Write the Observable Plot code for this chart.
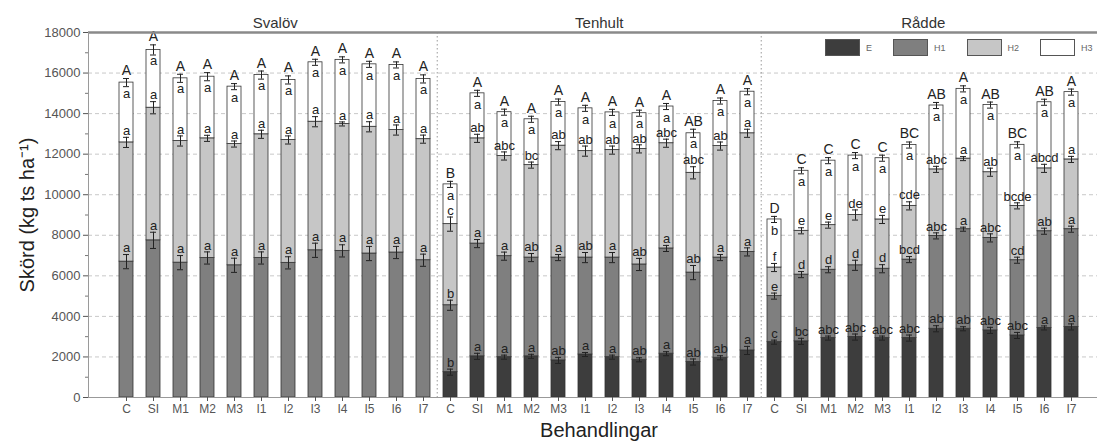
<!DOCTYPE html>
<html>
<head>
<meta charset="utf-8">
<script src="https://cdn.jsdelivr.net/npm/d3@7"></script>
<script src="https://cdn.jsdelivr.net/npm/@observablehq/plot@0.6"></script>
<style>
  body { margin: 0; background: #fff; }
  #wrap { position: relative; width: 1097px; height: 441px; overflow: hidden; font-family: Arial, "Liberation Sans", sans-serif; }
  #legend { position: absolute; left: 825px; top: 39px; display: flex; align-items: center; gap: 21px; white-space: nowrap; }
  #legend .item { display: flex; align-items: center; }
  #legend .sw { width: 35px; height: 17px; box-sizing: border-box; border: 1px solid #555; margin-right: 6px; }
  #legend .lb { font-size: 9px; color: #666; }
</style>
</head>
<body>
<div id="wrap"><div id="chart"></div><div id="legend"></div></div>
<script>
// ---------- categories ----------
const sites = ["Svalöv", "Tenhult", "Rådde"];
const treatments = ["C", "SI", "M1", "M2", "M3", "I1", "I2", "I3", "I4", "I5", "I6", "I7"];
const harvests = ["E", "H1", "H2", "H3"];
const harvestColors = ["#3d3d3d", "#7f7f7f", "#c6c6c6", "#ffffff"];
const yTicks = [0, 2000, 4000, 6000, 8000, 10000, 12000, 14000, 16000, 18000];
const yMinorTicks = [1000, 3000, 5000, 7000, 9000, 11000, 13000, 15000, 17000];

// ---------- yields per harvest (kg ts/ha) ----------
const svalovE  = [0, 0, 0, 0, 0, 0, 0, 0, 0, 0, 0, 0];
const svalovH1 = [6700, 7750, 6650, 6880, 6520, 6880, 6640, 7260, 7230, 7100, 7150, 6770];
const svalovH2 = [5880, 6540, 6000, 5900, 5980, 6100, 6060, 6340, 6260, 6250, 6040, 5970];
const svalovH3 = [2950, 2850, 3090, 3040, 2830, 2920, 2960, 2930, 3160, 3080, 3210, 2970];

const tenhultE  = [1250, 2030, 1990, 2030, 1830, 2120, 1990, 1860, 2160, 1750, 1960, 2320];
const tenhultH1 = [3300, 5560, 4980, 4870, 5070, 4780, 4910, 4700, 5190, 4410, 4940, 4860];
const tenhultH2 = [4000, 5190, 4940, 4560, 5520, 5250, 5300, 5700, 5190, 4920, 5500, 5850];
const tenhultH3 = [1960, 2220, 2160, 2260, 2150, 2110, 1860, 1760, 1810, 1950, 2220, 2050];

const raddeE  = [2730, 2770, 2930, 2980, 2930, 2930, 3390, 3390, 3310, 3060, 3430, 3480];
const raddeH1 = [2270, 3290, 3370, 3540, 3420, 3870, 4580, 4910, 4560, 3710, 4770, 4820];
const raddeH2 = [1410, 2160, 2200, 2480, 2430, 2650, 3280, 3480, 3240, 2680, 3100, 3440];
const raddeH3 = [2370, 2960, 3180, 2930, 3020, 3000, 3150, 3440, 3310, 3010, 3260, 3320];

// ---------- error (± kg, at the top of each cumulative segment) ----------
const svalovErrE  = [0, 0, 0, 0, 0, 0, 0, 0, 0, 0, 0, 0];
const svalovErrH1 = [350, 400, 350, 300, 350, 300, 300, 350, 300, 350, 300, 300];
const svalovErrH2 = [250, 300, 250, 150, 150, 200, 200, 250, 100, 250, 250, 200];
const svalovErrH3 = [200, 250, 200, 200, 150, 200, 200, 150, 150, 150, 150, 200];

const tenhultErrE  = [150, 150, 100, 100, 150, 100, 100, 100, 100, 150, 100, 200];
const tenhultErrH1 = [250, 200, 200, 200, 150, 250, 250, 300, 150, 350, 150, 200];
const tenhultErrH2 = [350, 200, 200, 150, 200, 250, 200, 200, 200, 300, 200, 200];
const tenhultErrH3 = [150, 150, 150, 150, 150, 150, 150, 150, 150, 200, 150, 150];

const raddeErrE  = [100, 150, 100, 150, 100, 150, 150, 100, 150, 150, 100, 150];
const raddeErrH1 = [150, 150, 150, 250, 200, 150, 150, 100, 200, 150, 150, 150];
const raddeErrH2 = [200, 150, 150, 250, 200, 200, 150, 100, 200, 150, 200, 150];
const raddeErrH3 = [150, 150, 150, 150, 150, 150, 150, 150, 150, 150, 150, 150];

// ---------- significance letters ----------
const svalovLetE  = ["", "", "", "", "", "", "", "", "", "", "", ""];
const svalovLetH1 = ["a", "a", "a", "a", "a", "a", "a", "a", "a", "a", "a", "a"];
const svalovLetH2 = ["a", "a", "a", "a", "a", "a", "a", "a", "a", "a", "a", "a"];
const svalovLetH3 = ["a", "a", "a", "a", "a", "a", "a", "a", "a", "a", "a", "a"];
const svalovLetTot = ["A", "A", "A", "A", "A", "A", "A", "A", "A", "A", "A", "A"];

const tenhultLetE  = ["b", "a", "a", "a", "ab", "a", "a", "ab", "a", "ab", "ab", "a"];
const tenhultLetH1 = ["b", "a", "a", "ab", "a", "ab", "a", "ab", "a", "ab", "a", "a"];
const tenhultLetH2 = ["c", "ab", "abc", "bc", "ab", "ab", "ab", "ab", "abc", "abc", "ab", "a"];
const tenhultLetH3 = ["a", "a", "a", "a", "a", "a", "a", "a", "a", "a", "a", "a"];
const tenhultLetTot = ["B", "A", "A", "A", "A", "A", "A", "A", "A", "AB", "A", "A"];

const raddeLetE  = ["c", "bc", "abc", "abc", "abc", "abc", "ab", "ab", "abc", "abc", "a", "a"];
const raddeLetH1 = ["e", "d", "d", "d", "d", "bcd", "abc", "a", "abc", "cd", "ab", "a"];
const raddeLetH2 = ["f", "e", "e", "de", "e", "cde", "abc", "a", "ab", "bcde", "abcd", "a"];
const raddeLetH3 = ["b", "a", "a", "a", "a", "a", "a", "a", "a", "a", "a", "a"];
const raddeLetTot = ["D", "C", "C", "C", "C", "BC", "AB", "A", "AB", "BC", "AB", "A"];

// ---------- assemble tables ----------
const siteTables = [
  {site: "Svalöv", vals: [svalovE, svalovH1, svalovH2, svalovH3], errs: [svalovErrE, svalovErrH1, svalovErrH2, svalovErrH3],
   lets: [svalovLetE, svalovLetH1, svalovLetH2, svalovLetH3], tot: svalovLetTot},
  {site: "Tenhult", vals: [tenhultE, tenhultH1, tenhultH2, tenhultH3], errs: [tenhultErrE, tenhultErrH1, tenhultErrH2, tenhultErrH3],
   lets: [tenhultLetE, tenhultLetH1, tenhultLetH2, tenhultLetH3], tot: tenhultLetTot},
  {site: "Rådde", vals: [raddeE, raddeH1, raddeH2, raddeH3], errs: [raddeErrE, raddeErrH1, raddeErrH2, raddeErrH3],
   lets: [raddeLetE, raddeLetH1, raddeLetH2, raddeLetH3], tot: raddeLetTot}
];

const keyOf = (s, t) => s + "|" + t;
const keys = sites.flatMap(s => treatments.map(t => keyOf(s, t)));

const barRows = [], errRows = [], lowLabels = [], h3Labels = [], totLabels = [];
for (const st of siteTables) {
  treatments.forEach((t, i) => {
    const key = keyOf(st.site, t);
    let cum = 0;
    harvests.forEach((h, j) => {
      const v = st.vals[j][i];
      if (!(v > 0)) return;
      cum += v;
      const e = st.errs[j][i];
      barRows.push({key, harvest: h, value: v});
      errRows.push({key, top: cum, err: e});
      if (j < 3) lowLabels.push({key, y: cum + e, text: st.lets[j][i]});
      else {
        h3Labels.push({key, y: cum, text: st.lets[j][i]});
        totLabels.push({key, y: cum + e, text: st.tot[i]});
      }
    });
  });
}

// ---------- layout of the band scale ----------
const xRange = [88, 1109];
const padIn = 0.47, padOut = 0.83;
const step = (xRange[1] - xRange[0]) / (keys.length - padIn + 2 * padOut);

const chart = Plot.plot({
  width: 1097,
  height: 441,
  marginTop: 32,
  marginBottom: 44,
  marginLeft: 88,
  marginRight: 0,
  style: {fontFamily: "Arial, 'Liberation Sans', sans-serif", background: "#fff", overflow: "visible"},
  x: {type: "band", domain: keys, range: xRange, paddingInner: padIn, paddingOuter: padOut, align: 0.5, label: null},
  y: {domain: [0, 18000], label: null},
  color: {domain: harvests, range: harvestColors},
  marks: [
    Plot.gridY({ticks: yTicks, stroke: "#c8c8c8", strokeOpacity: 1, strokeDasharray: "4,3"}),
    Plot.ruleX([keyOf("Svalöv", "I7"), keyOf("Tenhult", "I7")], {dx: step / 2, stroke: "#9a9a9a", strokeDasharray: "1.5,2.5"}),
    Plot.barY(barRows, Plot.stackY({x: "key", y: "value", fill: "harvest", stroke: "#333", strokeWidth: 0.8})),
    Plot.ruleX(errRows, {x: "key", y1: d => d.top - d.err, y2: d => d.top + d.err, stroke: "#222", strokeWidth: 1}),
    Plot.tickY(errRows, {x: "key", y: d => d.top + d.err, stroke: "#222", insetLeft: 4, insetRight: 4}),
    Plot.tickY(errRows, {x: "key", y: d => d.top - d.err, stroke: "#222", insetLeft: 4, insetRight: 4}),
    Plot.text(lowLabels, {x: "key", y: "y", text: "text", dy: -6.5, fontSize: 13, fill: "#222"}),
    Plot.text(h3Labels, {x: "key", y: "y", text: "text", dy: 11, fontSize: 13, fill: "#222"}),
    Plot.text(totLabels, {x: "key", y: "y", text: "text", dy: -8, fontSize: 14, fill: "#222"}),
    Plot.ruleY([0], {stroke: "#999"}),
    Plot.ruleY([18000], {stroke: "#8a8a8a", strokeWidth: 2.5}),
    Plot.frame({anchor: "left", stroke: "#9a9a9a"}),
    Plot.axisY({ticks: yTicks, tickSize: 5, tickPadding: 3, fontSize: 13, color: "#555", tickFormat: d3.format("d"), label: null}),
    Plot.axisY({ticks: yMinorTicks, tickSize: 3, tickFormat: () => "", color: "#777", label: null}),
    Plot.axisX({ticks: keys, tickSize: 4, tickPadding: 3, fontSize: 12, color: "#555", tickFormat: d => d.split("|")[1], label: null}),
    Plot.text(sites, {x: d => keyOf(d, "I1"), dx: step / 2, frameAnchor: "top", dy: -9, lineAnchor: "middle", text: d => d, fontSize: 15, fill: "#333"}),
    Plot.text(["Behandlingar"], {frameAnchor: "bottom", dx: 6, dy: 33, lineAnchor: "middle", textAnchor: "middle", fontSize: 20, fill: "#222"}),
    Plot.text(["Skörd (kg ts ha⁻¹)"], {frameAnchor: "left", rotate: -90, dx: -61, lineAnchor: "middle", textAnchor: "middle", fontSize: 20, fill: "#222"})
  ]
});
document.getElementById("chart").appendChild(chart);

// ---------- legend ----------
const legend = document.getElementById("legend");
harvests.forEach((h, i) => {
  const item = document.createElement("div");
  item.className = "item";
  const sw = document.createElement("div");
  sw.className = "sw";
  sw.style.background = harvestColors[i];
  const lb = document.createElement("span");
  lb.className = "lb";
  lb.textContent = h;
  item.appendChild(sw);
  item.appendChild(lb);
  legend.appendChild(item);
});
</script>
</body>
</html>
